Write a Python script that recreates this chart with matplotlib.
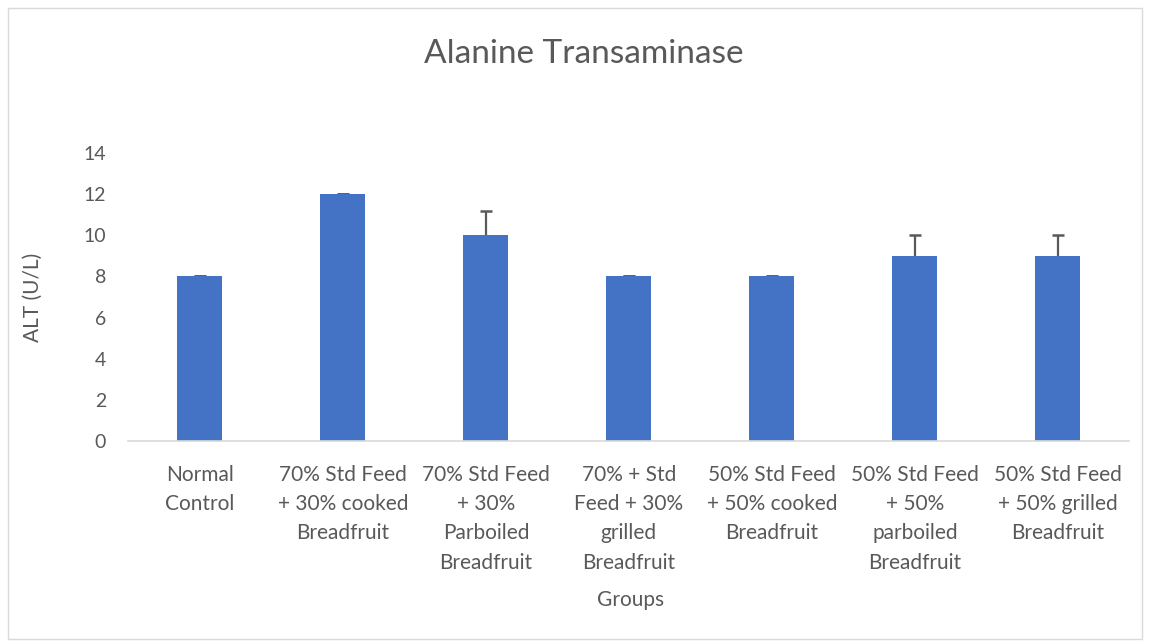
import matplotlib
matplotlib.use('Agg')
import matplotlib.pyplot as plt
from matplotlib.patches import Rectangle

groups = ['Normal\nControl',
          '70% Std Feed\n+ 30% cooked\nBreadfruit',
          '70% Std Feed\n+ 30%\nParboiled\nBreadfruit',
          '70% + Std\nFeed + 30%\ngrilled\nBreadfruit',
          '50% Std Feed\n+ 50% cooked\nBreadfruit',
          '50% Std Feed\n+ 50%\nparboiled\nBreadfruit',
          '50% Std Feed\n+ 50% grilled\nBreadfruit']
alt = [8, 12, 10, 8, 8, 9, 9]
alt_err = [0, 0, 1.18, 0, 0, 1, 1]

plt.rcParams['font.family'] = ['Lato', 'DejaVu Sans']
grey = '#595959'

fig = plt.figure(figsize=(11.5, 6.42), dpi=100)
ax = fig.add_axes([0.1117, 0.313, 0.8703, 0.4486])

x = list(range(len(groups)))
ax.bar(x, alt, width=0.315, color='#4472c4', zorder=2)
# symmetric bars drawn behind the columns so only the upper half shows
ax.errorbar(x, alt, yerr=alt_err, fmt='none',
            ecolor=grey, elinewidth=1.6, capsize=4.5, capthick=1.8, zorder=1)

ax.set_xlim(-0.5, len(groups) - 0.5)
ax.set_ylim(0, 14)
ax.set_yticks(range(0, 15, 2))
ax.set_xticks(x)
ax.set_xticklabels(groups, linespacing=1.58, fontsize=15)

for s in ['top', 'right', 'left']:
    ax.spines[s].set_visible(False)
ax.spines['bottom'].set_color('#d9d9d9')
ax.spines['bottom'].set_linewidth(1.2)
ax.tick_params(axis='both', length=0, colors=grey)
ax.tick_params(axis='x', pad=17)
ax.tick_params(axis='y', pad=16, labelsize=14)

ax.set_ylabel('ALT (U/L)', fontsize=15, color=grey, labelpad=29)
fig.text(0.548, 0.065, 'Groups', ha='center', va='center', fontsize=15, color=grey)
fig.text(0.508, 0.916, 'Alanine Transaminase', ha='center', va='center',
         fontsize=24, color=grey)

fig.patches.append(Rectangle((0.007, 0.005), 0.986, 0.982, transform=fig.transFigure,
                             fill=False, edgecolor='#d9d9d9', linewidth=1))

fig.savefig('out.png', dpi=100)
